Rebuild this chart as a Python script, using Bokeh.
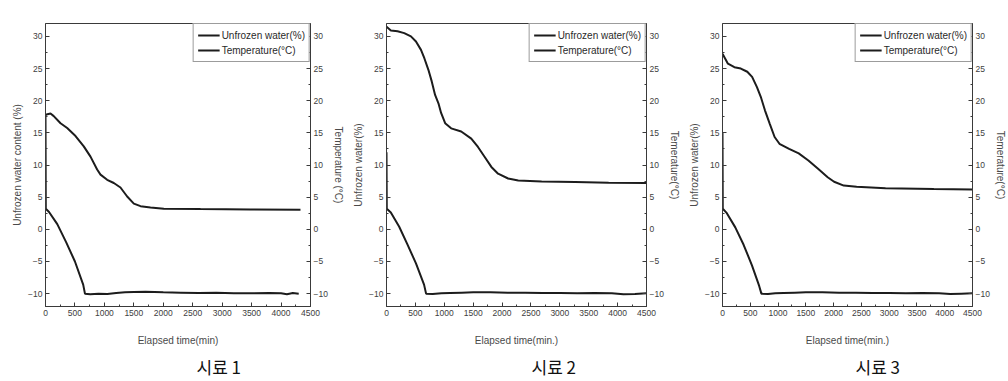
from bokeh.plotting import figure
from bokeh.models import Range1d, LinearAxis, Legend, LegendItem, Title, FixedTicker
from bokeh.layouts import row
from bokeh.embed import file_html
from bokeh.resources import INLINE

# ---------------- data ----------------
x_ticks = [0, 500, 1000, 1500, 2000, 2500, 3000, 3500, 4000, 4500]
y_ticks = [-10, -5, 0, 5, 10, 15, 20, 25, 30]

# Sample 1
water1_t = [0, 85, 140, 255, 368, 510, 650, 764, 877, 934, 1047, 1160, 1273, 1387, 1500, 1613, 1783, 2009, 2632, 3481, 4330]
water1_v = [17.8, 18.0, 17.6, 16.5, 15.75, 14.5, 12.9, 11.3, 9.3, 8.5, 7.7, 7.2, 6.5, 5.1, 4.0, 3.6, 3.4, 3.2, 3.15, 3.1, 3.05]
temp1_t = [0, 5, 60, 200, 350, 500, 640, 670, 760, 900, 1050, 1200, 1350, 1500, 1700, 2000, 2300, 2600, 2900, 3200, 3500, 3800, 4000, 4100, 4200, 4300]
temp1_v = [17.8, 3.2, 2.7, 0.8, -2.0, -5.0, -8.6, -10.0, -10.1, -10.0, -10.05, -9.9, -9.8, -9.75, -9.7, -9.8, -9.85, -9.9, -9.85, -9.95, -9.95, -9.9, -9.95, -10.1, -9.9, -10.0]

# Sample 2
water2_t = [0, 75, 191, 307, 423, 510, 597, 655, 725, 783, 841, 899, 945, 1015, 1119, 1293, 1467, 1583, 1700, 1815, 1931, 2105, 2280, 2685, 3265, 3845, 4500]
water2_v = [31.5, 30.9, 30.8, 30.5, 30.0, 29.2, 27.9, 26.6, 24.8, 23.0, 20.9, 19.6, 18.1, 16.5, 15.7, 15.2, 14.1, 12.8, 11.25, 9.7, 8.65, 7.9, 7.6, 7.45, 7.35, 7.25, 7.2]
temp2_t = [0, 5, 75, 220, 360, 510, 650, 685, 800, 950, 1100, 1300, 1500, 1800, 2100, 2400, 2700, 3000, 3300, 3600, 3900, 4100, 4300, 4500]
temp2_v = [12.0, 3.2, 2.6, 0.4, -2.3, -5.3, -8.6, -10.0, -10.05, -9.95, -9.9, -9.85, -9.8, -9.8, -9.85, -9.85, -9.9, -9.9, -9.95, -9.9, -9.95, -10.1, -10.05, -9.95]

# Sample 3
water3_t = [0, 98, 214, 330, 446, 533, 620, 689, 764, 851, 938, 1025, 1199, 1372, 1546, 1720, 1893, 2009, 2183, 2414, 2935, 3804, 4500]
water3_v = [27.3, 25.75, 25.2, 25.0, 24.5, 23.7, 22.1, 20.6, 18.5, 16.4, 14.35, 13.3, 12.5, 11.8, 10.7, 9.4, 8.1, 7.4, 6.8, 6.6, 6.4, 6.25, 6.2]
temp3_t = [0, 5, 70, 230, 380, 530, 660, 700, 820, 950, 1100, 1300, 1500, 1800, 2100, 2400, 2700, 3000, 3300, 3600, 3900, 4100, 4300, 4500]
temp3_v = [15.0, 3.2, 2.6, 0.3, -2.4, -5.6, -8.8, -10.0, -10.05, -9.95, -9.9, -9.85, -9.8, -9.8, -9.85, -9.85, -9.9, -9.9, -9.95, -9.9, -9.95, -10.05, -10.0, -9.95]

left_labels = ["Unfrozen water content (%)", "Unfrozen water(%)", "Unfrozen water(%)"]
right_labels = ["Temperature (°C)", "Temerature(°C)", "Temerature(°C)"]
x_labels = ["Elapsed time(min)", "Elapsed time(min.)", "Elapsed time(min.)"]
captions = ["시료 1", "시료 2", "시료 3"]
legend_labels = ["Unfrozen water(%)", "Temperature(°C)"]

FONT = "Liberation Sans"
LINE = "#1c1c1c"
AXC = "#3a3a3a"
TXT = "#404040"


def style_axis(ax, label, label_standoff=2):
    ax.axis_label = label
    ax.axis_label_text_font = FONT
    ax.axis_label_text_font_size = "10px"
    ax.axis_label_text_font_style = "normal"
    ax.axis_label_text_color = "#4a4a4a"
    ax.major_label_text_font = FONT
    ax.major_label_text_font_size = "8.5px"
    ax.major_label_text_color = TXT
    ax.axis_line_color = AXC
    ax.major_tick_line_color = AXC
    ax.minor_tick_line_color = AXC
    ax.major_tick_in = 4
    ax.major_tick_out = 0
    ax.minor_tick_in = 2
    ax.minor_tick_out = 0
    ax.major_label_standoff = 3
    ax.axis_label_standoff = label_standoff


def make_panel(i, wt, wv, tt, tv, fw, bl, br, cap_offset):
    p = figure(frame_width=fw, frame_height=283, output_backend="svg", toolbar_location=None,
               x_range=Range1d(0, 4500), y_range=Range1d(-12, 32),
               min_border_left=bl, min_border_right=br, min_border_top=23, min_border_bottom=72)
    p.grid.visible = False
    p.outline_line_color = AXC
    p.outline_line_width = 1
    p.background_fill_color = "white"
    p.border_fill_color = "white"

    r1 = p.line(wt, wv, line_color=LINE, line_width=2)
    r2 = p.line(tt, tv, line_color=LINE, line_width=2)

    p.xaxis.ticker = FixedTicker(ticks=x_ticks, minor_ticks=[v + 250 for v in x_ticks[:-1]])
    p.yaxis.ticker = FixedTicker(ticks=y_ticks, minor_ticks=[v + 2.5 for v in y_ticks[:-1]])
    style_axis(p.xaxis[0], x_labels[i], label_standoff=16)
    style_axis(p.yaxis[0], left_labels[i])

    ra = LinearAxis(ticker=FixedTicker(ticks=y_ticks, minor_ticks=[v + 2.5 for v in y_ticks[:-1]]))
    style_axis(ra, right_labels[i])
    p.add_layout(ra, "right")

    leg = Legend(items=[LegendItem(label=legend_labels[0], renderers=[r1]),
                        LegendItem(label=legend_labels[1], renderers=[r2])],
                 location="top_right")
    leg.margin = 0
    leg.padding = 4
    leg.spacing = 1
    leg.glyph_width = 22
    leg.glyph_height = 14
    leg.label_height = 14
    leg.label_standoff = 2
    leg.label_text_font = FONT
    leg.label_text_font_size = "10px"
    leg.label_text_color = "#2a2a2a"
    leg.border_line_color = AXC
    leg.border_line_width = 1
    leg.background_fill_alpha = 1
    p.add_layout(leg)

    cap = Title(text=captions[i], align="left", text_font="Noto Sans CJK KR",
                text_font_size="17px", text_font_style="normal", text_color="#111111",
                standoff=6, offset=cap_offset)
    p.add_layout(cap, "below")
    return p


p1 = make_panel(0, water1_t, water1_v, temp1_t, temp1_v, 265, 45, 33, 151)
p2 = make_panel(1, water2_t, water2_v, temp2_t, temp2_v, 260, 40, 33, 145)
p3 = make_panel(2, water3_t, water3_v, temp3_t, temp3_v, 250, 40, 33, 133)

layout = row(p1, p2, p3)
open("out.html", "w").write(file_html(layout, INLINE))
